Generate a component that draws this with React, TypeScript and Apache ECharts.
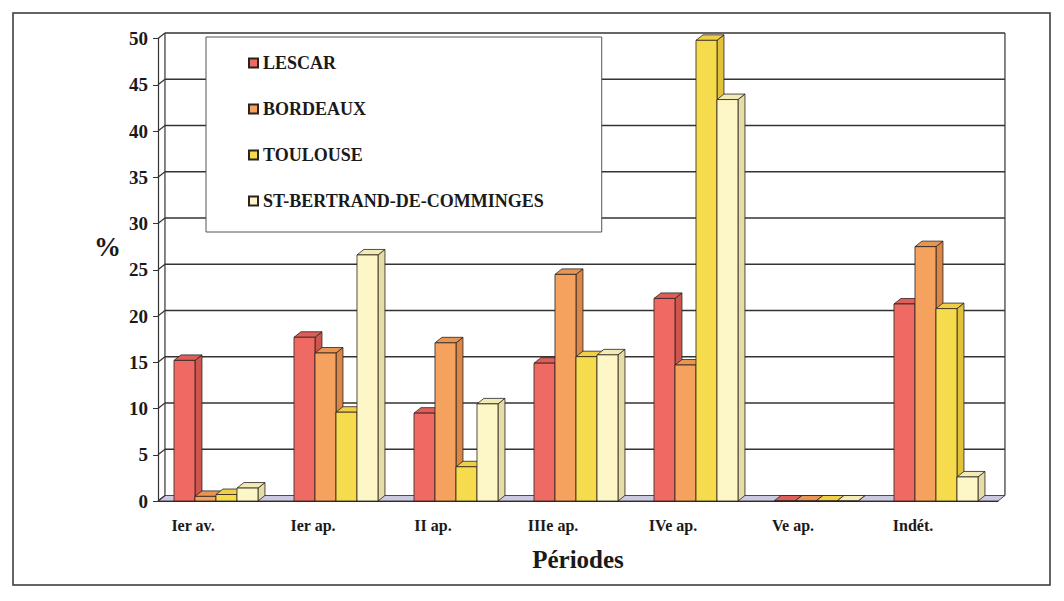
import React, { useEffect, useRef } from "react";
import * as echarts from "echarts";

const categories = ["Ier av.", "Ier ap.", "II ap.", "IIIe ap.", "IVe ap.", "Ve ap.", "Indét."];
const seriesNames = ["LESCAR", "BORDEAUX", "TOULOUSE", "ST-BERTRAND-DE-COMMINGES"];
const lescar = [15.2, 17.7, 9.5, 14.9, 21.9, 0, 21.3];
const bordeaux = [0.5, 16.0, 17.1, 24.5, 14.7, 0, 27.5];
const toulouse = [0.7, 9.6, 3.7, 15.6, 49.8, 0, 20.8];
const stBertrand = [1.4, 26.6, 10.5, 15.8, 43.4, 0, 2.6];
const yTicks = [0, 5, 10, 15, 20, 25, 30, 35, 40, 45, 50];

const FONT = '"Liberation Serif", "Times New Roman", serif';
const frontColors = ["#ef6a62", "#f4a25e", "#f6dc4c", "#fdf6c6"];
const sideColors = ["#cf564f", "#d9884a", "#e2c23a", "#e6dda6"];
const topColors = ["#dd5f58", "#e99552", "#efd044", "#f3ebb6"];
const EDGE = "#2b2222";

function barRender(k: number) {
  return (params: any, api: any) => {
    const ci = api.value(0);
    const v = api.value(1);
    const base = api.coord([ci, 0]);
    const top = api.coord([ci, v]);
    const band = api.size([1, 0])[0];
    const w = band * 0.175;
    const dx = band * 0.058;
    const dy = -5.5;
    const x = base[0] - band * 0.3667 + k * w;
    const yb = base[1];
    const yt = top[1];
    return {
      type: "group",
      children: [
        {
          type: "polygon",
          shape: { points: [[x + w, yb], [x + w + dx, yb + dy], [x + w + dx, yt + dy], [x + w, yt]] },
          style: { fill: sideColors[k], stroke: EDGE, lineWidth: 0.8 },
        },
        {
          type: "polygon",
          shape: { points: [[x, yt], [x + dx, yt + dy], [x + w + dx, yt + dy], [x + w, yt]] },
          style: { fill: topColors[k], stroke: EDGE, lineWidth: 0.8 },
        },
        {
          type: "rect",
          shape: { x: x, y: yt, width: w, height: yb - yt },
          style: { fill: frontColors[k], stroke: EDGE, lineWidth: 0.8 },
        },
      ],
    };
  };
}

function wallRender(params: any, api: any) {
  const cs = params.coordSys;
  const x0 = cs.x;
  const x1 = cs.x + cs.width;
  const band = api.size([1, 0])[0];
  const dx = band * 0.058;
  const dy = -5.5;
  const yb = api.coord([0, 0])[1];
  const ytop = api.coord([0, yTicks[yTicks.length - 1]])[1];
  const children: any[] = [];
  children.push({
    type: "polygon",
    shape: { points: [[x0, yb], [x0 + dx, yb + dy], [x1 + dx, yb + dy], [x1, yb]] },
    style: { fill: "#cbc8e2", stroke: EDGE, lineWidth: 0.8 },
  });
  children.push({
    type: "line",
    shape: { x1: x0 + dx, y1: yb + dy, x2: x0 + dx, y2: ytop + dy },
    style: { stroke: "#333", lineWidth: 1.2 },
  });
  children.push({
    type: "line",
    shape: { x1: x1 + dx, y1: yb + dy, x2: x1 + dx, y2: ytop + dy },
    style: { stroke: "#333", lineWidth: 1.2 },
  });
  yTicks.forEach((t) => {
    const y = api.coord([0, t])[1];
    children.push({
      type: "line",
      shape: { x1: x0, y1: y, x2: x0 + dx, y2: y + dy },
      style: { stroke: "#333", lineWidth: 1.2 },
    });
    if (t > 0) {
      children.push({
        type: "line",
        shape: { x1: x0 + dx, y1: y + dy, x2: x1 + dx, y2: y + dy },
        style: { stroke: "#333", lineWidth: 1.4 },
      });
    }
  });
  return { type: "group", children };
}

export default function App() {
  const ref = useRef<HTMLDivElement>(null);
  useEffect(() => {
    if (!ref.current) return;
    const chart = echarts.init(ref.current, null, { renderer: "svg" });
    const allData = [lescar, bordeaux, toulouse, stBertrand];
    const barSeries = allData.map((arr, k) => ({
      type: "custom",
      name: seriesNames[k],
      z: 3,
      itemStyle: { color: frontColors[k], borderColor: EDGE, borderWidth: 1 },
      renderItem: barRender(k),
      encode: { x: 0, y: 1 },
      data: arr.map((v, i) => [i, v]),
    }));
    chart.setOption({
      animation: false,
      backgroundColor: "#ffffff",
      grid: { left: 158, right: 66, top: 38.5, bottom: 100 },
      legend: {
        orient: "vertical",
        left: 206,
        top: 37,
        padding: [17, 58, 22, 42],
        backgroundColor: "#ffffff",
        borderColor: "#555",
        borderWidth: 1,
        itemWidth: 9,
        itemHeight: 9,
        itemGap: 28,
        itemTextGap: 1,
        icon: "rect",
        data: seriesNames,
        textStyle: { fontFamily: FONT, fontWeight: "bold", fontSize: 18, color: "#1a1a1a" },
        selectedMode: false,
      },
      xAxis: {
        type: "category",
        data: categories,
        name: "Périodes",
        nameLocation: "middle",
        nameGap: 46,
        nameTextStyle: { fontFamily: FONT, fontWeight: "bold", fontSize: 25, color: "#1a1a1a" },
        axisLine: { lineStyle: { color: "#333", width: 1.2 } },
        axisTick: { length: 5, lineStyle: { color: "#333" } },
        axisLabel: {
          fontFamily: FONT,
          fontWeight: "bold",
          fontSize: 16,
          color: "#1a1a1a",
          margin: 16,
          padding: [0, 50, 0, 0],
        },
        splitLine: { show: false },
      },
      yAxis: {
        type: "value",
        min: 0,
        max: 50,
        interval: 5,
        axisLine: { show: true, lineStyle: { color: "#333", width: 1.2 } },
        axisTick: { show: true, length: 5, lineStyle: { color: "#333" } },
        axisLabel: { fontFamily: FONT, fontWeight: "bold", fontSize: 19, color: "#1a1a1a", margin: 10 },
        splitLine: { show: false },
      },
      graphic: [
        {
          type: "rect",
          shape: { x: 13, y: 13, width: 1037, height: 572 },
          style: { fill: "none", stroke: "#333", lineWidth: 1.5 },
          silent: true,
        },
        {
          type: "text",
          left: 94,
          top: 233,
          style: { text: "%", font: `bold 27px ${FONT}`, fill: "#1a1a1a" },
        },
      ],
      series: [
        {
          type: "custom",
          name: "wall",
          z: 1,
          renderItem: wallRender,
          encode: { x: 0, y: 1 },
          data: [[0, 0]],
          silent: true,
        },
        ...barSeries,
      ],
    });
    return () => chart.dispose();
  }, []);
  return (
    <div
      ref={ref}
      style={{ position: "absolute", left: 0, top: 0, width: 1064, height: 601 }}
    />
  );
}
